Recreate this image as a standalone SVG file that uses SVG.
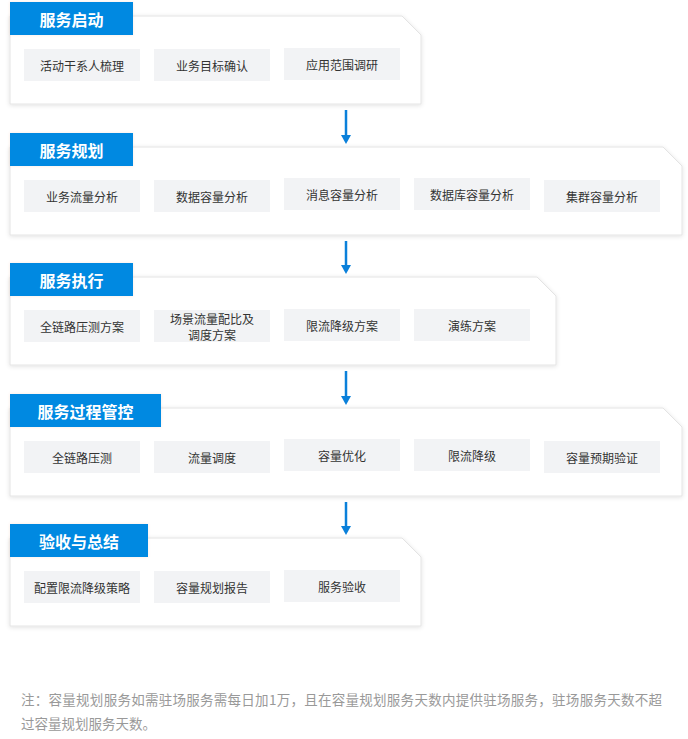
<svg xmlns="http://www.w3.org/2000/svg" width="688" height="739" viewBox="0 0 688 739">
<defs>
<filter id="sh" x="-5%" y="-10%" width="110%" height="125%">
<feDropShadow dx="0" dy="1" stdDeviation="2" flood-color="#000" flood-opacity="0.12"/>
</filter>
<filter id="tsh" x="-5%" y="-20%" width="110%" height="140%">
<feDropShadow dx="0" dy="0" stdDeviation="1.5" flood-color="#e07050" flood-opacity="0.15"/>
</filter>
<marker id="ah" viewBox="0 0 9 10" refX="0" refY="5" markerWidth="9" markerHeight="10" markerUnits="userSpaceOnUse" orient="auto">
<path d="M0,0 L9,5 L0,10 Z" fill="#0a80da"/>
</marker>
</defs>
<style>
.box{fill:#fff;stroke:#e4e4e4;stroke-width:1;filter:url(#sh)}
.tab{fill:#0389e1;filter:url(#tsh)}
.tt{font-family:"Noto Sans CJK SC","Noto Sans",sans-serif;font-size:16px;font-weight:bold;fill:#fff;text-anchor:middle;dominant-baseline:central}
.it{fill:#f2f3f5}
.ix{font-family:"Noto Sans CJK SC","Noto Sans",sans-serif;font-size:12px;fill:#333;text-anchor:middle;dominant-baseline:central}
.ar{stroke:#0a80da;stroke-width:2.5;fill:none}
.note{font-family:"Noto Sans CJK SC","Noto Sans",sans-serif;font-size:13.5px;fill:#999}
</style>
<rect width="688" height="739" fill="#fff"/>

<g id="connectors">
<line class="ar" x1="346" y1="110" x2="346" y2="135" marker-end="url(#ah)"/>
<line class="ar" x1="346" y1="241" x2="346" y2="265" marker-end="url(#ah)"/>
<line class="ar" x1="346" y1="371" x2="346" y2="396" marker-end="url(#ah)"/>
<line class="ar" x1="346" y1="502" x2="346" y2="526" marker-end="url(#ah)"/>
</g>

<g id="s1">
<path class="box" d="M10,16 H402 L421,35 V104 H10 Z"/>
<rect class="tab" x="10" y="2" width="123" height="33"/>
<text class="tt" x="71.5" y="19">服务启动</text>
<rect class="it" x="24" y="49" width="116" height="32"/><text class="ix" x="82" y="65">活动干系人梳理</text>
<rect class="it" x="154" y="49" width="116" height="32"/><text class="ix" x="212" y="65">业务目标确认</text>
<rect class="it" x="284" y="48" width="116" height="32"/><text class="ix" x="342" y="64">应用范围调研</text>
</g>

<g id="s2">
<path class="box" d="M10,147 H663 L682,166 V235 H10 Z"/>
<rect class="tab" x="10" y="133" width="123" height="33"/>
<text class="tt" x="71.5" y="150">服务规划</text>
<rect class="it" x="24" y="180" width="116" height="32"/><text class="ix" x="82" y="196">业务流量分析</text>
<rect class="it" x="154" y="180" width="116" height="32"/><text class="ix" x="212" y="196">数据容量分析</text>
<rect class="it" x="284" y="178" width="116" height="32"/><text class="ix" x="342" y="194">消息容量分析</text>
<rect class="it" x="414" y="178" width="116" height="32"/><text class="ix" x="472" y="194">数据库容量分析</text>
<rect class="it" x="544" y="180" width="116" height="32"/><text class="ix" x="602" y="196">集群容量分析</text>
</g>

<g id="s3">
<path class="box" d="M10,277 H537 L556,296 V365 H10 Z"/>
<rect class="tab" x="10" y="263" width="123" height="33"/>
<text class="tt" x="71.5" y="280">服务执行</text>
<rect class="it" x="24" y="310" width="116" height="32"/><text class="ix" x="82" y="326">全链路压测方案</text>
<rect class="it" x="154" y="310" width="116" height="32"/><text class="ix" x="212" y="318">场景流量配比及</text><text class="ix" x="212" y="334">调度方案</text>
<rect class="it" x="284" y="309" width="116" height="32"/><text class="ix" x="342" y="325">限流降级方案</text>
<rect class="it" x="414" y="309" width="116" height="32"/><text class="ix" x="472" y="325">演练方案</text>
</g>

<g id="s4">
<path class="box" d="M10,408 H663 L682,427 V496 H10 Z"/>
<rect class="tab" x="10" y="394" width="151" height="33"/>
<text class="tt" x="85.5" y="411">服务过程管控</text>
<rect class="it" x="24" y="441" width="116" height="32"/><text class="ix" x="82" y="457">全链路压测</text>
<rect class="it" x="154" y="441" width="116" height="32"/><text class="ix" x="212" y="457">流量调度</text>
<rect class="it" x="284" y="439" width="116" height="32"/><text class="ix" x="342" y="455">容量优化</text>
<rect class="it" x="414" y="439" width="116" height="32"/><text class="ix" x="472" y="455">限流降级</text>
<rect class="it" x="544" y="441" width="116" height="32"/><text class="ix" x="602" y="457">容量预期验证</text>
</g>

<g id="s5">
<path class="box" d="M10,538 H402 L421,557 V626 H10 Z"/>
<rect class="tab" x="10" y="524" width="138" height="33"/>
<text class="tt" x="79" y="541">验收与总结</text>
<rect class="it" x="24" y="571" width="116" height="32"/><text class="ix" x="82" y="587">配置限流降级策略</text>
<rect class="it" x="154" y="571" width="116" height="32"/><text class="ix" x="212" y="587">容量规划报告</text>
<rect class="it" x="284" y="570" width="116" height="32"/><text class="ix" x="342" y="586">服务验收</text>
</g>

<g id="note">
<text class="note" x="21" y="705" textLength="641" lengthAdjust="spacing">注：容量规划服务如需驻场服务需每日加1万，且在容量规划服务天数内提供驻场服务，驻场服务天数不超</text>
<text class="note" x="21" y="729">过容量规划服务天数。</text>
</g>
</svg>
